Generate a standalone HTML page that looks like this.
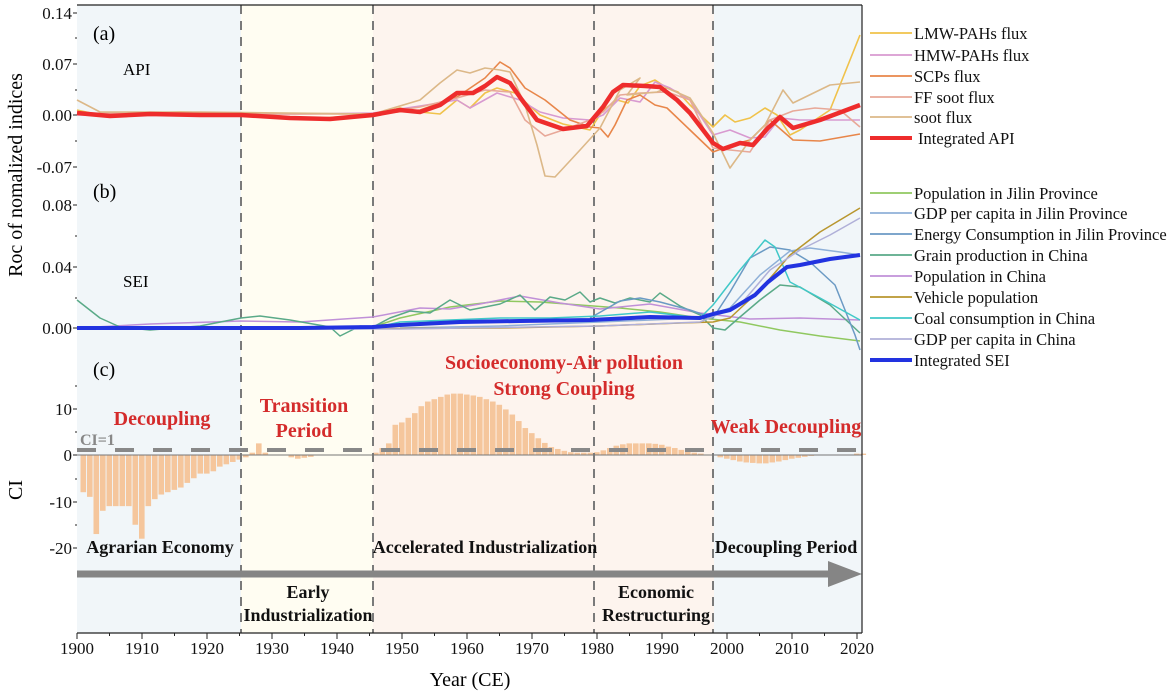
<!DOCTYPE html>
<html><head><meta charset="utf-8"><style>
body{margin:0;background:#fff;}
svg{display:block;font-family:"Liberation Serif",serif;}
</style></head><body>
<svg id="s" width="1174" height="694" viewBox="0 0 1174 694" xmlns="http://www.w3.org/2000/svg">
<rect x="77" y="5" width="164" height="628" fill="#f1f6f9"/>
<rect x="241" y="5" width="132" height="628" fill="#fffdf2"/>
<rect x="373" y="5" width="341" height="628" fill="#fdf4ee"/>
<rect x="714" y="5" width="148" height="628" fill="#f1f6f9"/>
<g id="bars" fill="#f5c69c"></g>
<line x1="77" y1="455" x2="862" y2="455" stroke="#777" stroke-width="1"/>
<line x1="77" y1="450" x2="862" y2="450" stroke="#888" stroke-width="4" stroke-dasharray="19,19"/>
<g stroke="#7a7a7a" stroke-width="2" stroke-dasharray="9,7">
<line x1="241" y1="5" x2="241" y2="633"/><line x1="373" y1="5" x2="373" y2="633"/>
<line x1="594" y1="5" x2="594" y2="633"/><line x1="713" y1="5" x2="713" y2="633"/>
</g>
<g fill="none" stroke-width="1.6" stroke-linejoin="round">
<polyline stroke="#f0c24a" points="77,110 100,115 140,113 180,112 230,113 260,114 290,117 320,118 373,115 400,108 420,112 440,114 457,100 470,108 485,93 497,88 515,93 540,115 563,124 590,130 603,110 617,100 628,103 640,86 655,80 667,88 678,92 690,105 713,127 725,115 735,122 750,118 765,108 777,115 790,135 800,130 830,110 860,35"/>
<polyline stroke="#d89ad0" points="77,115 120,115 200,114 300,114 373,113 420,106 457,100 470,108 497,93 520,100 540,112 563,118 590,120 603,115 620,98 640,102 655,82 670,88 690,100 713,135 730,130 750,138 765,137 780,118 800,120 830,120 860,120"/>
<polyline stroke="#e8864a" points="77,114 200,113 373,114 420,110 457,97 485,78 500,62 510,68 525,88 545,100 570,120 590,127 600,128 608,137 615,125 627,100 640,95 655,105 667,108 690,130 713,152 735,144 750,140 770,120 793,140 820,141 860,134"/>
<polyline stroke="#e8a898" points="77,113 200,114 373,114 420,107 457,98 485,90 510,92 525,120 545,136 563,130 590,120 603,112 620,95 640,93 667,92 690,100 713,148 730,150 750,152 770,120 793,111 815,108 840,110 860,127"/>
<polyline stroke="#dcb888" points="77,100 100,112 200,112 373,114 420,100 440,83 457,70 470,73 485,68 500,70 510,72 525,105 537,145 545,176 555,177 580,150 600,128 620,90 640,78 627,95 657,92 667,88 690,98 713,133 730,168 750,140 765,125 783,90 793,103 830,85 860,82"/>
</g>
<polyline fill="none" stroke="#ee2c2c" stroke-width="4.5" stroke-linejoin="round" points="77,113 110,116 150,114 200,115 241,115 290,118 330,119 373,115 400,110 420,112 440,105 457,93 473,93 485,86 497,77 510,83 522,100 537,120 563,129 587,126 603,107 613,92 623,85 645,86 660,87 677,100 690,113 713,143 723,149 740,143 753,145 768,128 780,117 793,128 820,120 860,105"/>
<g fill="none" stroke-width="1.5" stroke-linejoin="round">
<polyline stroke="#90c860" points="77,328 200,327 373,327 400,318 450,307 500,301 540,302 580,305 620,308 660,312 700,318 740,322 780,330 820,336 860,341"/>
<polyline stroke="#c090d8" points="77,328 150,324 241,321 300,322 373,317 420,308 450,309 480,304 520,296 560,303 600,309 650,304 700,313 750,319 800,318 860,320"/>
<polyline stroke="#5aaa88" points="77,300 100,318 120,327 150,330 200,326 241,318 260,316 290,320 330,327 340,336 360,326 373,327 390,318 410,311 430,313 450,300 470,310 500,304 520,295 535,310 550,297 565,300 580,292 590,302 600,298 615,303 630,298 650,302 660,293 680,306 700,315 713,328 725,330 740,317 760,300 780,285 800,287 830,305 860,333"/>
<polyline stroke="#6b9ac4" points="590,318 620,301 640,298 660,302 690,310 713,318 730,292 750,258 770,247 790,250 810,262 835,285 855,335 860,350"/>
<polyline stroke="#8fb0d8" points="400,328 500,326 600,322 700,318 730,308 760,275 790,251 810,248 840,252 860,255"/>
<polyline stroke="#40c8c8" points="373,328 400,322 450,320 500,318 550,318 600,316 650,312 700,318 713,305 740,270 765,240 775,247 790,282 820,298 860,320"/>
<polyline stroke="#b8962e" points="77,329 300,329 500,328 600,326 680,323 713,322 730,318 760,290 790,255 820,232 860,208"/>
<polyline stroke="#b0b0d8" points="77,329 400,329 600,326 700,322 740,305 770,270 800,250 830,235 860,218"/>
</g>
<polyline fill="none" stroke="#2233e0" stroke-width="4" stroke-linejoin="round" points="77,328 200,328 300,328 373,327 400,325 460,322 520,321 590,320 650,317 700,318 713,314 730,310 755,295 768,282 787,267 800,265 830,259 860,255"/>
<line x1="77" y1="574" x2="840" y2="574" stroke="#858585" stroke-width="7"/>
<polygon points="828,561 862,574 828,587" fill="#858585"/>
<g stroke="#222" stroke-width="1.2" fill="none">
<line x1="77" y1="5" x2="862" y2="5"/><line x1="862" y1="5" x2="862" y2="633"/>
<line x1="77" y1="633" x2="862" y2="633"/>
</g>
<g id="ticks" stroke="#222" stroke-width="1"></g>
<g font-size="17" text-anchor="end" fill="#111">
<text x="72" y="19">0.14</text><text x="72" y="70">0.07</text><text x="72" y="121">0.00</text><text x="72" y="173">-0.07</text>
<text x="72" y="211">0.08</text><text x="72" y="273">0.04</text><text x="72" y="334">0.00</text>
<text x="72" y="415">10</text><text x="72" y="461">0</text><text x="72" y="508">-10</text><text x="72" y="554">-20</text>
</g>
<g font-size="17" text-anchor="middle" fill="#111">
<text x="77" y="654">1900</text><text x="142" y="654">1910</text><text x="207" y="654">1920</text><text x="272" y="654">1930</text><text x="337" y="654">1940</text><text x="402" y="654">1950</text><text x="467" y="654">1960</text><text x="532" y="654">1970</text><text x="597" y="654">1980</text><text x="662" y="654">1990</text><text x="727" y="654">2000</text><text x="792" y="654">2010</text><text x="857" y="654">2020</text>
</g>
<text x="470" y="686" font-size="20" text-anchor="middle">Year (CE)</text>
<text transform="translate(22,175) rotate(-90)" font-size="20" text-anchor="middle">Roc of nomalized indices</text>
<text transform="translate(22,490) rotate(-90)" font-size="20" text-anchor="middle">CI</text>
<g font-size="20"><text x="93" y="40">(a)</text><text x="93" y="198">(b)</text><text x="93" y="376">(c)</text></g>
<g font-size="17"><text x="123" y="75">API</text><text x="123" y="287">SEI</text></g>
<g font-size="20" font-weight="bold" fill="#d42b2b" text-anchor="middle">
<text x="162" y="425">Decoupling</text>
<text x="304" y="412">Transition</text><text x="304" y="437">Period</text>
<text x="564" y="369">Socioeconomy-Air pollution</text><text x="564" y="395">Strong Coupling</text>
<text x="786" y="433">Weak Decoupling</text>
</g>
<text x="80" y="445" font-size="16" font-weight="bold" fill="#888">CI=1</text>
<g font-size="18" font-weight="bold" fill="#111" text-anchor="middle">
<text x="160" y="553">Agrarian Economy</text>
<text x="485" y="553">Accelerated Industrialization</text>
<text x="786" y="553">Decoupling Period</text>
<text x="308" y="598">Early</text><text x="308" y="621">Industrialization</text>
<text x="656" y="598">Economic</text><text x="656" y="621">Restructuring</text>
</g>
<g stroke-width="1.8">
<line x1="870" y1="33" x2="912" y2="33" stroke="#f0c24a"/>
<line x1="870" y1="55" x2="912" y2="55" stroke="#d89ad0"/>
<line x1="870" y1="76" x2="912" y2="76" stroke="#e8864a"/>
<line x1="870" y1="97" x2="912" y2="97" stroke="#e8a898"/>
<line x1="870" y1="117" x2="912" y2="117" stroke="#dcb888"/>
<line x1="870" y1="138" x2="912" y2="138" stroke="#ee2c2c" stroke-width="4"/>
<line x1="870" y1="193" x2="912" y2="193" stroke="#90c860"/>
<line x1="870" y1="213" x2="912" y2="213" stroke="#8fb0d8"/>
<line x1="870" y1="234" x2="912" y2="234" stroke="#6b9ac4"/>
<line x1="870" y1="255" x2="912" y2="255" stroke="#5aaa88"/>
<line x1="870" y1="276" x2="912" y2="276" stroke="#c090d8"/>
<line x1="870" y1="297" x2="912" y2="297" stroke="#b8962e"/>
<line x1="870" y1="318" x2="912" y2="318" stroke="#40c8c8"/>
<line x1="870" y1="339" x2="912" y2="339" stroke="#b0b0d8"/>
<line x1="870" y1="360" x2="912" y2="360" stroke="#2233e0" stroke-width="4"/>
</g>
<g font-size="16.5" fill="#111">
<text x="914" y="39">LMW-PAHs flux</text><text x="914" y="61">HMW-PAHs flux</text><text x="914" y="82">SCPs flux</text><text x="914" y="103">FF soot flux</text><text x="914" y="123">soot flux</text><text x="918" y="144">Integrated API</text>
<text x="914" y="199">Population  in Jilin Province</text><text x="914" y="219">GDP per capita in Jilin Province</text><text x="914" y="240">Energy Consumption in Jilin Province</text><text x="914" y="261">Grain production in China</text><text x="914" y="282">Population in China</text><text x="914" y="303">Vehicle population</text><text x="914" y="324">Coal consumption in China</text><text x="914" y="345">GDP per capita in China</text><text x="914" y="366">Integrated SEI</text>
</g>
</svg>
<script>
var ns="http://www.w3.org/2000/svg";
var v={1901:-8,1902:-9,1903:-17,1904:-12,1905:-11,1906:-11,1907:-11,1908:-11,1909:-15,1910:-18,1911:-11,1912:-9.5,1913:-8.5,1914:-8,1915:-7.5,1916:-7,1917:-6,1918:-5,1919:-4,1920:-4,1921:-3.5,1922:-2.5,1923:-2,1924:-1.5,1925:-1,1926:-0.5,1927:0.5,1928:2.5,1929:0.5,1933:-0.5,1934:-0.8,1935:-0.6,1936:-0.4,1946:0.5,1947:1.5,1948:2.5,1949:6.5,1950:7,1951:8,1952:9,1953:10.5,1954:11.5,1955:12,1956:12.5,1957:13,1958:13.2,1959:13.2,1960:13,1961:12.8,1962:12.5,1963:12,1964:11.5,1965:10.8,1966:9.8,1967:8.7,1968:7.3,1969:5.8,1970:4.7,1971:3.6,1972:2.6,1973:1.7,1974:1.3,1975:0.9,1976:0.6,1977:0.5,1978:0.5,1979:0.5,1980:0.6,1981:1,1982:1.5,1983:2,1984:2.3,1985:2.5,1986:2.5,1987:2.5,1988:2.5,1989:2.4,1990:2.2,1991:1.8,1992:1.5,1993:1.1,1994:0.8,1995:0.5,1996:0.3,1999:-0.5,2000:-0.8,2001:-1.1,2002:-1.4,2003:-1.6,2004:-1.7,2005:-1.8,2006:-1.8,2007:-1.6,2008:-1.4,2009:-1.1,2010:-0.8,2011:-0.6,2012:-0.4,2013:-0.2,2020:0.3,2021:0.3};
var g=document.getElementById("bars");
for(var y in v){var val=v[y],x=77+6.5*(y-1900)-3,h=Math.abs(val)*4.65;
var r=document.createElementNS(ns,"rect");r.setAttribute("x",x);r.setAttribute("width",5.6);
r.setAttribute("y",val>0?455-h:455);r.setAttribute("height",h);g.appendChild(r);}
var t=document.getElementById("ticks");
function L(a,b,c,d){var l=document.createElementNS(ns,"line");l.setAttribute("x1",a);l.setAttribute("y1",b);l.setAttribute("x2",c);l.setAttribute("y2",d);t.appendChild(l);}
for(var yr=1900;yr<=2020;yr+=5){var x=77+6.5*(yr-1900);L(x,633,x,yr%10==0?639:636);}
[13,64,115,167,205,267,328,409,455,502,548].forEach(function(y){L(73,y,77,y);});
[38,90,141,236,298,386,432,479,525].forEach(function(y){L(75,y,77,y);});
</script>
</body></html>
